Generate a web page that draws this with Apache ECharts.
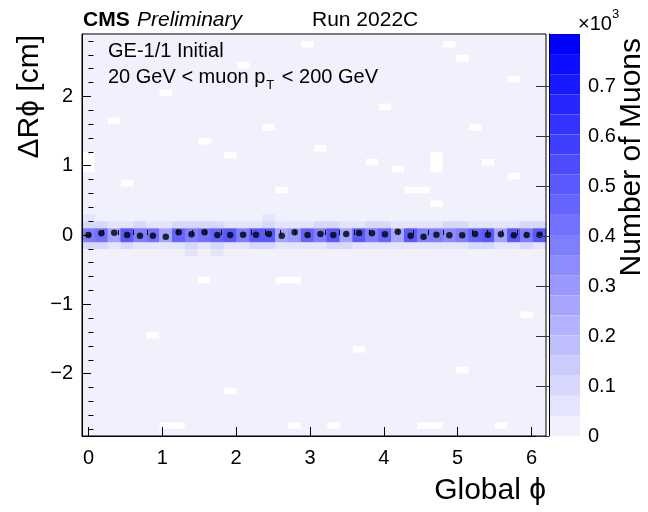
<!DOCTYPE html>
<html>
<head>
<meta charset="utf-8">
<title>GE-1/1 residuals vs global phi</title>
<script src="https://cdn.jsdelivr.net/npm/echarts@6/dist/echarts.min.js"></script>
<style>
html, body { margin: 0; padding: 0; background: #fff; }
#chart { width: 648px; height: 512px; }
</style>
</head>
<body>
<div id="chart"></div>
<script>
const FONT = "'Liberation Sans', Arial, Helvetica, sans-serif";

// 36 bins in global phi (10 deg each, starting at -5 deg), 58 bins in dR*phi (0.1 cm, -2.9 .. 2.9)
const phiBins = Array.from({ length: 36 }, (_, i) => i);
const dRphiBins = Array.from({ length: 58 }, (_, i) => i);
const phiMin = -Math.PI / 36;
const phiMax = 2 * Math.PI - Math.PI / 36;

const xMajorTicks = [0, 1, 2, 3, 4, 5, 6];
const xMinorTicks = [0.2, 0.4, 0.6, 0.8, 1.2, 1.4, 1.6, 1.8, 2.2, 2.4, 2.6, 2.8, 3.2, 3.4, 3.6, 3.8,
  4.2, 4.4, 4.6, 4.8, 5.2, 5.4, 5.6, 5.8];
const yMajorTicks = [-2, -1, 0, 1, 2];
const yMinorTicks = [-2.8, -2.6, -2.4, -2.2, -1.8, -1.6, -1.4, -1.2, -0.8, -0.6, -0.4, -0.2,
  0.2, 0.4, 0.6, 0.8, 1.2, 1.4, 1.6, 1.8, 2.2, 2.4, 2.6, 2.8];
const zTicks = [0, 0.1, 0.2, 0.3, 0.4, 0.5, 0.6, 0.7];

// muon counts in the bins around zero, one value per phi bin
const bandCore = [400, 420, 260, 490, 380, 440, 260, 470, 400, 420, 470, 500, 400, 490, 500, 260, 310, 450,
  380, 490, 280, 490, 380, 470, 260, 490, 400, 380, 340, 380, 470, 490, 260, 490, 400, 490];   // -0.1..0.1
const bandUp1 = [100, 100, 60, 60, 100, 60, 60, 100, 100, 100, 100, 60, 60, 60, 100, 60, 60, 60,
  100, 100, 60, 60, 100, 100, 60, 60, 60, 60, 100, 100, 60, 60, 60, 60, 100, 100];              // 0.1..0.2
const bandDn1 = [100, 100, 60, 100, 60, 60, 60, 60, 100, 60, 100, 60, 60, 100, 100, 60, 60, 60,
  60, 100, 100, 60, 60, 60, 60, 60, 60, 60, 60, 60, 100, 100, 60, 60, 100, 60];                 // -0.2..-0.1
const bandUp2 = [60, 8, 8, 8, 8, 8, 8, 8, 8, 8, 8, 8, 8, 8, 60, 8, 8, 8,
  8, 8, 8, 8, 8, 8, 8, 8, 8, 8, 8, 8, 8, 8, 8, 8, 8, 8];                                           // 0.2..0.3
const bandDn2 = [8, 8, 8, 8, 8, 8, 8, 8, 60, 8, 60, 8, 8, 8, 8, 8, 8, 8,
  8, 8, 8, 8, 8, 8, 8, 8, 8, 8, 8, 8, 8, 8, 8, 8, 8, 8];                                           // -0.3..-0.2
const bgCount = 8;   // sparse tails, lowest colour level
// [phi bin, dR*phi bin] cells with no entries
const emptyCells = [[11, 40], [27, 40], [27, 39], [27, 38], [31, 39], [33, 37], [3, 36], [15, 35],
  [25, 35], [26, 35], [27, 33], [22, 39], [24, 38], [0, 40], [0, 39], [0, 38],
  [9, 22], [15, 22], [16, 22], [6, 1], [7, 1], [16, 1], [19, 1], [26, 1], [27, 1], [32, 1],
  [3, 55], [4, 55], [17, 56], [28, 56], [29, 54], [12, 53], [20, 52], [33, 51], [6, 49], [23, 47],
  [2, 45], [14, 44], [30, 44], [9, 42], [18, 41], [5, 14], [21, 12], [29, 9], [11, 6], [34, 17]];

// profile mean of dR*phi per phi bin (cm)
const meanDRphi = [0.0, 0.024, 0.034, 0.0, -0.01, -0.01, -0.024, 0.038, 0.01, 0.038, 0.0, 0.0,
  0.005, 0.005, 0.014, -0.01, 0.038, 0.0, 0.014, 0.0, 0.014, 0.029, 0.024, 0.01,
  0.048, -0.01, -0.024, 0.005, -0.005, -0.005, 0.014, 0.005, 0.01, -0.005, 0.0, 0.005];

const isEmpty = {};
emptyCells.forEach(([c, k]) => { isEmpty[c + '_' + k] = true; });

const heatData = [];
phiBins.forEach((c) => {
  dRphiBins.forEach((k) => {
    let v = bgCount;
    if (k === 28 || k === 29) v = bandCore[c];
    else if (k === 30) v = bandUp1[c];
    else if (k === 27) v = bandDn1[c];
    else if (k === 31) v = bandUp2[c];
    else if (k === 26) v = bandDn2[c];
    if (isEmpty[c + '_' + k]) v = 0;
    if (v > 0) heatData.push([c, k, v]);
  });
});
const meanData = meanDRphi.map((m, c) => [c, m]);

const minus = (v) => String(v).replace('-', '\u2212');

const chart = echarts.init(document.getElementById('chart'), null, { renderer: 'canvas' });

chart.setOption({
  animation: false,
  backgroundColor: '#fff',
  textStyle: { fontFamily: FONT },
  grid: [
    { left: 82, top: 34, width: 464, height: 402, show: true, z: 10,
      borderColor: '#000', borderWidth: 1, backgroundColor: 'transparent' },
    { left: 549, top: 34, width: 31, height: 402, show: false }
  ],
  xAxis: [
    { type: 'category', gridIndex: 0, data: phiBins, show: false },
    {
      type: 'value', gridIndex: 0, min: phiMin, max: phiMax, position: 'bottom', z: 10,
      axisLine: { show: true, onZero: false, lineStyle: { color: '#000', width: 1 } },
      axisTick: { show: true, inside: true, length: 9, customValues: xMajorTicks, lineStyle: { color: '#000' } },
      axisLabel: { customValues: xMajorTicks, fontSize: 20, color: '#000', margin: 12, fontFamily: FONT },
      splitLine: { show: false }
    },
    {
      type: 'value', gridIndex: 0, min: phiMin, max: phiMax, position: 'bottom', z: 10,
      axisLine: { show: false },
      axisTick: { show: true, inside: true, length: 5, customValues: xMinorTicks, lineStyle: { color: '#000' } },
      axisLabel: { show: false },
      splitLine: { show: false }
    },
    { type: 'value', gridIndex: 1, show: false }
  ],
  yAxis: [
    { type: 'category', gridIndex: 0, data: dRphiBins, show: false },
    {
      type: 'value', gridIndex: 0, min: -2.9, max: 2.9, position: 'left', z: 10,
      axisLine: { show: true, onZero: false, lineStyle: { color: '#000', width: 1 } },
      axisTick: { show: true, inside: true, length: 9, customValues: yMajorTicks, lineStyle: { color: '#000' } },
      axisLabel: { customValues: yMajorTicks, fontSize: 20, color: '#000', margin: 9, fontFamily: FONT, formatter: minus },
      splitLine: { show: false }
    },
    {
      type: 'value', gridIndex: 0, min: -2.9, max: 2.9, position: 'left', z: 10,
      axisLine: { show: false },
      axisTick: { show: true, inside: true, length: 5, customValues: yMinorTicks, lineStyle: { color: '#000' } },
      axisLabel: { show: false },
      splitLine: { show: false }
    },
    {
      type: 'value', gridIndex: 1, min: 0, max: 0.804, position: 'right', z: 10,
      axisLine: { show: true, lineStyle: { color: '#000', width: 1 } },
      axisTick: { show: true, inside: true, length: 13, customValues: zTicks, lineStyle: { color: '#333' } },
      axisLabel: { customValues: zTicks, fontSize: 20, color: '#000', margin: 8, fontFamily: FONT },
      splitLine: { show: false }
    }
  ],
  visualMap: {
    type: 'piecewise',
    seriesIndex: 0,
    min: 0,
    max: 800,
    splitNumber: 20,
    orient: 'vertical',
    left: 549,
    top: 34,
    padding: 0,
    itemWidth: 31,
    itemHeight: 20.1,
    itemGap: 0,
    itemSymbol: 'rect',
    showLabel: false,
    selectedMode: false,
    hoverLink: false,
    inRange: { color: ['#f1f1fd', '#0000ff'] }
  },
  series: [
    {
      type: 'heatmap',
      xAxisIndex: 0,
      yAxisIndex: 0,
      data: heatData,
      emphasis: { disabled: true },
      progressive: 0
    },
    {
      type: 'scatter',
      xAxisIndex: 0,
      yAxisIndex: 1,
      data: meanData,
      symbol: 'circle',
      symbolSize: 6.5,
      itemStyle: { color: '#000' },
      z: 5,
      silent: true
    }
  ],
  graphic: [
    { type: 'text', z: 100, x: 83, y: 20, style: { text: 'CMS', font: 'bold 21px ' + FONT, fill: '#000', verticalAlign: 'middle' } },
    { type: 'text', z: 100, x: 137, y: 20, style: { text: 'Preliminary', font: 'italic 21px ' + FONT, fill: '#000', verticalAlign: 'middle' } },
    { type: 'text', z: 100, x: 312, y: 20, style: { text: 'Run 2022C', font: '21px ' + FONT, fill: '#000', verticalAlign: 'middle' } },
    { type: 'text', z: 100, x: 108, y: 51, style: { text: 'GE-1/1 Initial', font: '20px ' + FONT, fill: '#000', verticalAlign: 'middle' } },
    {
      type: 'text', z: 100, x: 108, y: 62,
      style: {
        text: '{a|20 GeV < muon p}{s|T}{a| < 200 GeV}',
        verticalAlign: 'top',
        rich: {
          a: { fontFamily: FONT, fontSize: 20, lineHeight: 30, verticalAlign: 'middle', fill: '#000' },
          s: { fontFamily: FONT, fontSize: 13, lineHeight: 13, verticalAlign: 'bottom', fill: '#000', padding: [0, 2, 0, 1] }
        }
      }
    },
    {
      type: 'text', z: 100, x: 578, y: 8,
      style: {
        text: '{a|\u00d710}{s|3}',
        verticalAlign: 'top',
        rich: {
          a: { fontFamily: FONT, fontSize: 20, lineHeight: 26, verticalAlign: 'bottom', fill: '#000' },
          s: { fontFamily: FONT, fontSize: 13, lineHeight: 13, verticalAlign: 'top', fill: '#000' }
        }
      }
    },
    { type: 'text', z: 100, x: 30, y: 35, rotation: Math.PI / 2,
      style: { text: '\u0394R\u03d5 [cm]', font: '30px ' + FONT, fill: '#000', align: 'right', verticalAlign: 'middle' } },
    { type: 'text', z: 100, x: 546, y: 491,
      style: { text: 'Global \u03d5', font: '30px ' + FONT, fill: '#000', align: 'right', verticalAlign: 'middle' } },
    { type: 'text', z: 100, x: 632, y: 38, rotation: Math.PI / 2,
      style: { text: 'Number of Muons', font: '30px ' + FONT, fill: '#000', align: 'right', verticalAlign: 'middle' } }
  ]
});
</script>
</body>
</html>
